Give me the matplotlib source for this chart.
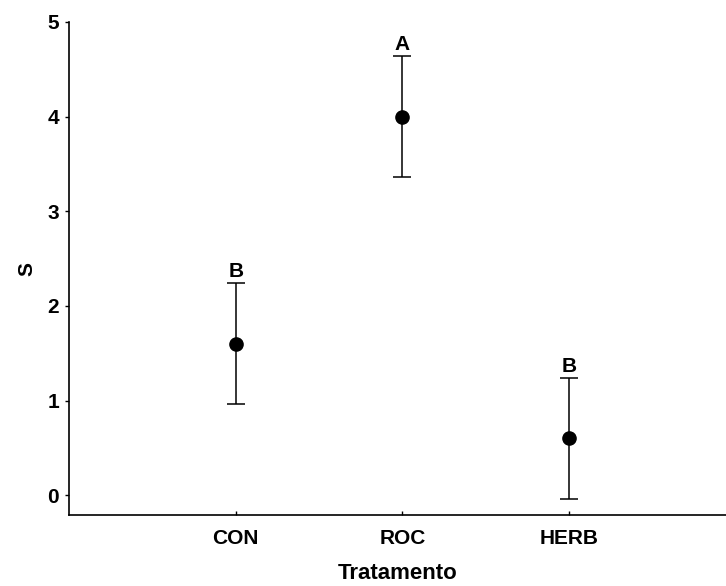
import matplotlib
matplotlib.use("Agg")
import matplotlib.pyplot as plt

categories = ["CON", "ROC", "HERB"]
means = [1.6, 4.0, 0.6]
errors = [0.64, 0.64, 0.64]
letters = ["B", "A", "B"]
yticks = [0, 1, 2, 3, 4, 5]

plt.rcParams['font.family'] = ['Liberation Sans', 'DejaVu Sans']
plt.rcParams['font.weight'] = 'bold'

fig = plt.figure(figsize=(7.26, 5.86), dpi=100)
ax = fig.add_axes([0.095, 0.121, 0.905, 0.8415])

x = list(range(1, len(categories) + 1))
ax.errorbar(x, means, yerr=errors, fmt='o', color='black', markersize=9.5,
            elinewidth=1.1, capsize=6.5, capthick=1.1, ecolor='black')

for xi, m, e, l in zip(x, means, errors, letters):
    ax.annotate(l, xy=(xi, m + e), xytext=(0, 1.5), textcoords='offset points',
                ha='center', va='bottom', fontsize=15, fontweight='bold')

ax.set_xlim(0, 3.94)
ax.set_ylim(-0.21, 5)
ax.set_xticks(x)
ax.set_xticklabels(categories)
ax.set_yticks(yticks)
ax.spines['top'].set_visible(False)
ax.spines['right'].set_visible(False)
for s in ('left', 'bottom'):
    ax.spines[s].set_linewidth(1.2)
ax.tick_params(axis='y', direction='out', length=3, width=1, labelsize=15, pad=4)
ax.tick_params(axis='x', direction='in', length=3, width=1, labelsize=15, pad=10)
for lab in ax.get_xticklabels() + ax.get_yticklabels():
    lab.set_fontweight('bold')
ax.set_xlabel("Tratamento", fontsize=16, fontweight='bold', labelpad=11)
ax.set_ylabel("S", fontsize=15, fontweight='bold', labelpad=8)

fig.savefig("out.png", dpi=100)
